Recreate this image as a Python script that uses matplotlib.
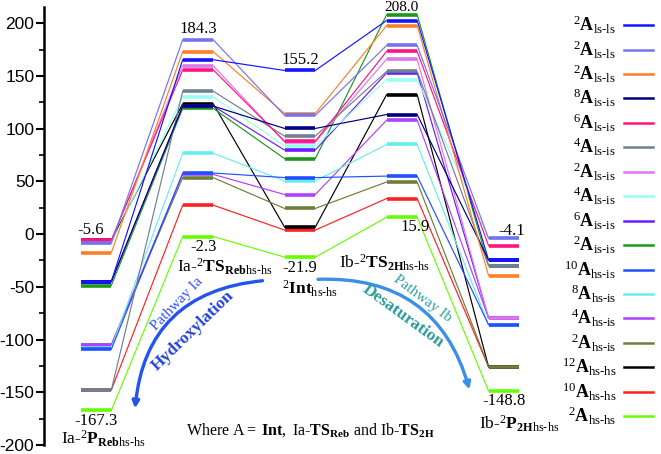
import matplotlib
matplotlib.use('Agg')
import matplotlib.pyplot as plt
from matplotlib.lines import Line2D
from matplotlib.patches import FancyArrowPatch

# stationary points along the reaction coordinate
stages = [1, 2, 3, 4, 5]   # Ia-P_Reb, Ia-TS_Reb, Int, Ib-TS_2H, Ib-P_2H

# relative energies (kcal/mol)
e_2ls_ls_a = [-45.0, 165.4, 155.2, 202.6, -24.6]
e_2ls_ls_b = [-8.8, 184.3, 112.5, 179.0, -4.1]
e_2ls_ls_c = [-17.6, 173.0, 114.3, 197.8, -39.4]
e_8is_is = [-45.0, 121.4, 100.2, 113.4, -24.6]
e_6ls_is = [-5.6, 155.7, 88.0, 173.3, -11.0]
e_4ls_is_a = [-148.0, 135.5, 92.9, 154.3, -30.0]
e_2ls_is = [-6.5, 159.7, 87.3, 166.0, -79.7]
e_4ls_is_b = [-8.8, 130.2, 83.5, 146.5, -4.1]
e_6is_is = [-45.0, 121.4, 79.7, 152.8, -79.7]
e_2is_is = [-48.8, 119.2, 71.5, 208.0, -30.0]
e_10hs_is = [-109.3, 57.9, 53.6, 55.0, -86.0]
e_8hs_is = [-108.0, 76.7, 50.4, 85.0, -86.0]
e_4hs_is = [-105.0, 56.6, 37.5, 108.0, -79.7]
e_2hs_is = [-105.0, 53.5, 24.3, 49.4, -126.0]
e_12hs_hs = [-6.0, 123.6, 6.5, 132.3, -126.0]
e_10hs_hs = [-148.0, 27.4, 3.8, 33.7, -126.0]
e_2hs_hs = [-167.3, -2.3, -21.9, 15.9, -148.8]

series = [e_2ls_ls_a, e_2ls_ls_b, e_2ls_ls_c, e_8is_is, e_6ls_is, e_4ls_is_a,
          e_2ls_is, e_4ls_is_b, e_6is_is, e_2is_is, e_10hs_is, e_8hs_is,
          e_4hs_is, e_2hs_is, e_12hs_hs, e_10hs_hs, e_2hs_hs]

labels = [r'$^{2}\mathbf{A}_{\mathrm{ls\text{-}ls}}$',
          r'$^{2}\mathbf{A}_{\mathrm{ls\text{-}ls}}$',
          r'$^{2}\mathbf{A}_{\mathrm{ls\text{-}ls}}$',
          r'$^{8}\mathbf{A}_{\mathrm{is\text{-}is}}$',
          r'$^{6}\mathbf{A}_{\mathrm{ls\text{-}is}}$',
          r'$^{4}\mathbf{A}_{\mathrm{ls\text{-}is}}$',
          r'$^{2}\mathbf{A}_{\mathrm{ls\text{-}is}}$',
          r'$^{4}\mathbf{A}_{\mathrm{ls\text{-}is}}$',
          r'$^{6}\mathbf{A}_{\mathrm{is\text{-}is}}$',
          r'$^{2}\mathbf{A}_{\mathrm{is\text{-}is}}$',
          r'$^{10}\mathbf{A}_{\mathrm{hs\text{-}is}}$',
          r'$^{8}\mathbf{A}_{\mathrm{hs\text{-}is}}$',
          r'$^{4}\mathbf{A}_{\mathrm{hs\text{-}is}}$',
          r'$^{2}\mathbf{A}_{\mathrm{hs\text{-}is}}$',
          r'$^{12}\mathbf{A}_{\mathrm{hs\text{-}hs}}$',
          r'$^{10}\mathbf{A}_{\mathrm{hs\text{-}hs}}$',
          r'$^{2}\mathbf{A}_{\mathrm{hs\text{-}hs}}$']

colors = ['#1414FF', '#7474F0', '#FF7F27', '#00007F', '#FF1480', '#708090',
          '#DD77EE', '#99FFEE', '#6A1BFF', '#1A9A1A', '#2050FF', '#66EEEE',
          '#B040FF', '#6E7F3A', '#000000', '#FF2020', '#66FF00']

plt.rcParams['mathtext.fontset'] = 'custom'
plt.rcParams['mathtext.rm'] = 'Liberation Serif'
plt.rcParams['mathtext.it'] = 'Liberation Serif:italic'
plt.rcParams['mathtext.bf'] = 'Liberation Serif:bold'
plt.rcParams['axes.unicode_minus'] = False

HALF = 0.15  # half width of a level bar
SERIF = 'Liberation Serif'


def draw_profile(ax, energies, color):
    """thick level bars joined by thin lines"""
    for i, (x, e) in enumerate(zip(stages, energies)):
        ax.plot([x - HALF, x + HALF], [e, e], color=color, lw=2.6,
                solid_capstyle='butt')
        if i < len(stages) - 1:
            ax.plot([x + HALF, stages[i + 1] - HALF], [e, energies[i + 1]],
                    color=color, lw=0.85)


fig = plt.figure(figsize=(6.61, 4.54), dpi=100)
ax = fig.add_axes([0.0666, 0.02, 0.735, 0.9636])

# draw bottom of the legend first so the first entries sit on top
for e, c in reversed(list(zip(series, colors))):
    draw_profile(ax, e, c)

ax.set_xlim(0.49, 5.255)
ax.set_ylim(-200, 215)
ax.set_yticks([-200, -150, -100, -50, 0, 50, 100, 150, 200])
ax.set_yticks([-175, -125, -75, -25, 25, 75, 125, 175], minor=True)
ax.tick_params(axis='y', which='major', length=6, width=1.5, pad=1,
               labelsize=12.5)
ax.tick_params(axis='y', which='minor', length=3.5, width=1.2)
for lab in ax.get_yticklabels():
    lab.set_fontfamily('Liberation Sans')
ax.set_xticks([])
for side in ['top', 'right', 'bottom']:
    ax.spines[side].set_visible(False)
ax.spines['left'].set_linewidth(1.8)

# energy values and species names
tk = dict(family=SERIF, fontsize=12, ha='center', clip_on=False)
ax.text(2.0, 186.5, '184.3', va='bottom', **tk)
ax.text(3.0, 157.5, '155.2', va='bottom', **tk)
ax.text(4.0, 208.5, '208.0', va='bottom', family=SERIF, fontsize=11,
        ha='center', clip_on=False)
ax.text(0.95, -4.0, '-5.6', va='bottom', **tk)
ax.text(2.05, -5.0, '-2.3', va='top', **tk)
ax.text(3.0, -24.5, '-21.9', va='top', **tk)
ax.text(4.13, 6.5, '15.9', va='center', **tk)
ax.text(5.08, 2.5, '-4.1', va='center', **tk)
ax.text(5.0, -158.0, '-148.8', va='center', **tk)
ax.text(1.0, -177.0, '-167.3', va='center', **tk)

nk = dict(fontsize=12.5, va='center', clip_on=False)
ax.text(2.26, -31.0, r'$\mathrm{Ia\text{-}}^{2}\mathbf{TS}_{\mathbf{Reb}\mathrm{hs\text{-}hs}}$',
        ha='center', **nk)
ax.text(3.1, -52.0, r'$^{2}\mathbf{Int}_{\mathrm{hs\text{-}hs}}$', ha='center', **nk)
ax.text(3.83, -27.5, r'$\mathrm{Ib\text{-}}^{2}\mathbf{TS}_{\mathbf{2H}\mathrm{hs\text{-}hs}}$',
        ha='center', **nk)
ax.text(4.76, -180.0, r'$\mathrm{Ib\text{-}}^{2}\mathbf{P}_{\mathbf{2H}\mathrm{hs\text{-}hs}}$',
        ha='left', **nk)
ax.text(1.07, -194.0, r'$\mathrm{Ia\text{-}}^{2}\mathbf{P}_{\mathbf{Reb}\mathrm{hs\text{-}hs}}$',
        ha='center', **nk)
ax.text(3.1, -186.0,
        r'$\mathrm{Where\ A{=}\ }\mathbf{Int}\mathrm{,\ Ia\text{-}}\mathbf{TS}_{\mathbf{Reb}}'
        r'\mathrm{\ and\ Ib\text{-}}\mathbf{TS}_{\mathbf{2H}}$',
        fontsize=11.5, ha='center', va='center', clip_on=False)

# pathway arrows
arr_l = FancyArrowPatch((2.66, -44.0), (1.38, -168.0),
                        connectionstyle='arc3,rad=0.42', arrowstyle='-|>',
                        mutation_scale=10, lw=2.4, color='#2255EE')
ax.add_patch(arr_l)
arr_r = FancyArrowPatch((3.15, -43.0), (4.67, -150.0),
                        connectionstyle='arc3,rad=-0.40', arrowstyle='-|>',
                        mutation_scale=10, lw=2.4, color='#3A8FE8')
ax.add_patch(arr_r)

ax.text(1.79, -66.0, 'Pathway Ia', family=SERIF, fontsize=11, color='#3355FF',
        rotation=46, ha='center', va='center')
ax.text(1.95, -92.0, 'Hydroxylation', family=SERIF, fontsize=12.5,
        fontweight='bold', color='#2244DD', rotation=44, ha='center', va='center')
ax.text(4.2, -61.0, 'Pathway Ib', family=SERIF, fontsize=11, color='#2AA3A3',
        rotation=-37, ha='center', va='center')
ax.text(4.01, -78.0, 'Desaturation', family=SERIF, fontsize=12.5,
        fontweight='bold', color='#2A9A9A', rotation=-36, ha='center', va='center')

handles = [Line2D([], [], color=c, lw=1.8) for c in colors]
fig.legend(handles, labels, loc='upper right', bbox_to_anchor=(0.999, 0.985),
           frameon=False, markerfirst=False, fontsize=13, handlelength=1.6,
           labelspacing=0.13, handletextpad=0.45, borderaxespad=0.0)

fig.savefig('out.png', dpi=100)
